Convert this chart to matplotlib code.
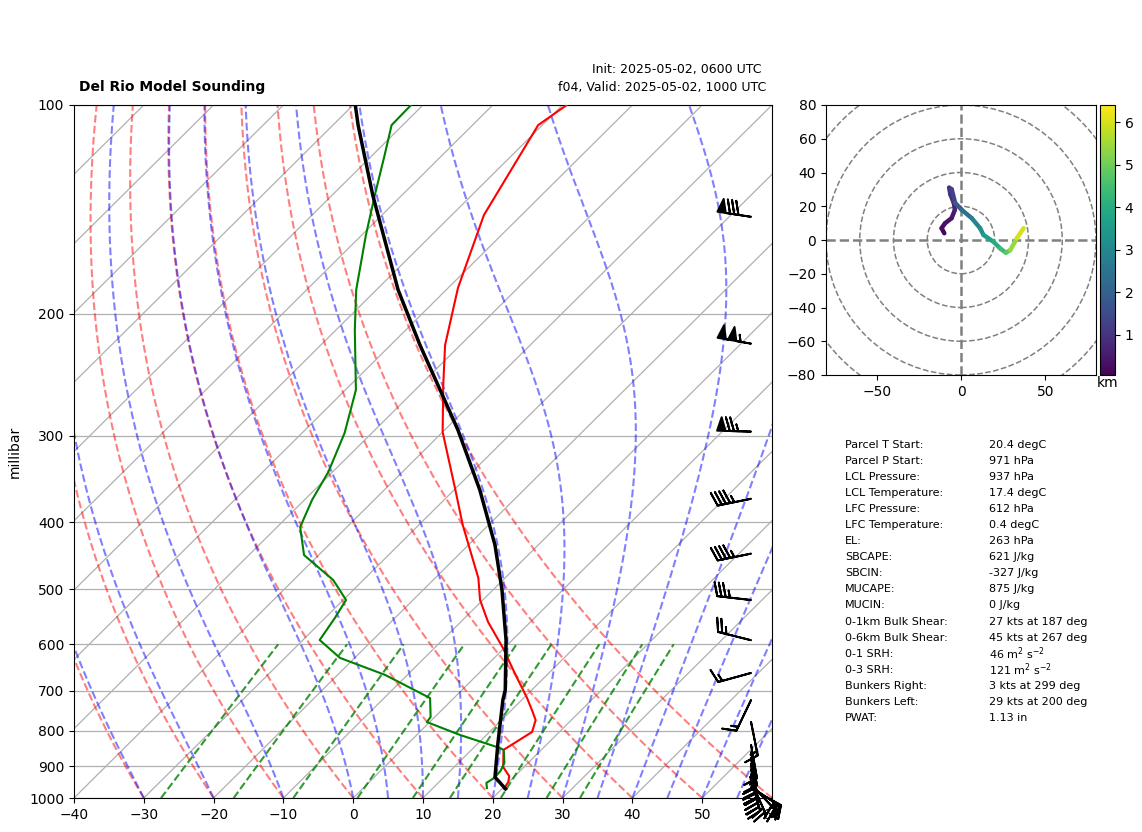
import numpy as np
import matplotlib
matplotlib.use('Agg')
import matplotlib.pyplot as plt
from matplotlib.collections import LineCollection
from matplotlib.colors import Normalize
from matplotlib.cm import ScalarMappable
from matplotlib.ticker import FixedLocator, NullLocator, ScalarFormatter

# temperature profile
t_p = [100, 106.9, 144.1, 183.6, 222, 253.5, 296.4, 359.4, 403.7, 446.1, 481.6, 517.9, 557, 607.4,
       664.3, 717.5, 751.4, 772, 803, 852, 902, 930, 948, 970]
t_c = [-69.4, -70.6, -65.4, -58.6, -52.2, -46.7, -40, -29.8, -23.7, -18.1, -13.8, -10.4, -6.1, -0.2,
       5.5, 10.5, 13.3, 14.9, 16.1, 14.6, 17, 19.2, 19.9, 20.3]

# dewpoint profile
td_p = [100, 106.9, 118, 134.9, 154.1, 184.8, 211.2, 257.7, 297.4, 338.6, 371.5, 406.4, 446.1, 484.8,
        517.9, 550, 591.6, 627.9, 664.3, 717.5, 764, 777, 811, 844, 852, 890, 914, 936, 951, 967]
td_c = [-91.7, -91.6, -88.3, -83.9, -79.4, -72.9, -67.3, -58.5, -53.9, -50.6, -48.9, -46.7, -42.1, -34.3,
        -29.6, -28.6, -27.6, -22.1, -13.2, -3.4, -0.6, -0.4, 6.2, 13.2, 14.6, 16.6, 17.2, 17.3, 16.9, 17.7]

# parcel path
parcel_p = [100, 106.9, 134.9, 184.8, 222, 262, 294.4, 359.4, 431.4, 501, 591.6, 698.5, 722, 833, 933, 970]
parcel_c = [-99.7, -96.4, -84.2, -66.9, -55.8, -45.4, -38.1, -26.3, -16.2, -8.7, -0.9, 6.2, 7.3, 12.8, 17.3, 20.5]

# wind barbs
barb_p = [145, 221, 296, 370, 444, 518, 592, 660, 722, 777, 838, 858, 876, 893, 908, 923, 936, 945, 955, 964, 970]
barb_u = [79, 103, 75, 44, 44, 34.7, 24, 14.5, 6.5, -3, -3, -3, -3, -3, -4, -4, -5, -8, -14, -18, -22]
barb_v = [-12, -18, -2, 9, 9, -4, -6, 4, 13.6, 15, 17, 17, 18, 18, 18, 18, 18, 18, 15, 12, 12]

# hodograph
hodo_u = [-9.9, -11.5, -9.5, -5.6, -3.6, -4.2, -6.3, -7, -5.5, -3.5, 0.4, 6.4, 11.3, 13.3, 19.2, 23.2, 26.6, 29.2, 33.1, 37.1]
hodo_v = [4, 7, 9.9, 12.9, 17.9, 21.8, 27, 31, 30, 22, 17.9, 12.9, 7, 3, -1, -5, -7.5, -6, 1, 7]
hodo_z = [0.06, 0.2, 0.3, 0.4, 0.5, 0.7, 0.85, 0.95, 1.05, 1.3, 1.8, 2.4, 2.9, 3.2, 3.6, 4.0, 4.4, 4.8, 5.4, 6.0]

stat_names = ['Parcel T Start:', 'Parcel P Start:', 'LCL Pressure:', 'LCL Temperature:', 'LFC Pressure:',
              'LFC Temperature:', 'EL:', 'SBCAPE:', 'SBCIN:', 'MUCAPE:', 'MUCIN:', '0-1km Bulk Shear:',
              '0-6km Bulk Shear:', '0-1 SRH:', '0-3 SRH:', 'Bunkers Right:', 'Bunkers Left:', 'PWAT:']
stat_values = ['20.4 degC', '971 hPa', '937 hPa', '17.4 degC', '612 hPa', '0.4 degC', '263 hPa', '621 J/kg',
               '-327 J/kg', '875 J/kg', '0 J/kg', '27 kts at 187 deg', '45 kts at 267 deg',
               r'46 m$^2$ s$^{-2}$', r'121 m$^2$ s$^{-2}$', '3 kts at 299 deg', '29 kts at 200 deg', '1.13 in']

W, H = 1142, 832
fig = plt.figure(figsize=(W / 100, H / 100), dpi=100)


def box(left, top, right, bottom):
    return [left / W, 1 - bottom / H, (right - left) / W, (bottom - top) / H]


ax = fig.add_axes(box(74, 105, 772, 798))
K = 100.0


# skew temperature into x position
def skew(t, p):
    return np.asarray(t, dtype=float) + K * np.log10(1000.0 / np.asarray(p, dtype=float))


# saturation vapor pressure, hPa
def es(t):
    return 6.112 * np.exp(17.67 * t / (t + 243.5))


def moist_line(t0, pres):
    out = [t0]
    t = t0 + 273.15
    for i in range(1, len(pres)):
        dp = pres[i] - pres[i - 1]
        rs = 0.622 * es(t - 273.15) / (pres[i - 1] - es(t - 273.15))
        lv = 2.501e6
        frac = (287.05 * t + lv * rs) / (1005.0 + lv * lv * rs * 0.622 / (287.05 * t * t))
        t = t + frac / pres[i - 1] * dp
        out.append(t - 273.15)
    return np.array(out)


pres = np.linspace(1000, 100, 901)
ax.set_yscale('log')

# isotherms and pressure lines
for t in np.arange(-150, 61, 10):
    ax.plot(skew([t, t], [1000, 100]), [1000, 100], color='#b0b0b0', lw=0.9, zorder=1)
ax.yaxis.grid(True, color='#b0b0b0', lw=0.9)
ax.set_axisbelow(True)

# dry adiabats
for t0 in np.arange(-40, 61, 10):
    t = (t0 + 273.15) * (pres / 1000.0) ** 0.2854 - 273.15
    ax.plot(skew(t, pres), pres, color='r', alpha=0.5, ls='--', lw=1.5, zorder=2)

# moist adiabats
moist_t0 = np.concatenate((np.arange(-40, 0, 10), np.arange(0, 101, 5)))
for t0 in moist_t0:
    ax.plot(skew(moist_line(float(t0), pres), pres), pres, color='b', alpha=0.5, ls='--', lw=1.5, zorder=2)

# mixing ratio lines
mix_p = np.linspace(1000, 600, 50)
for w in [0.0004, 0.001, 0.002, 0.004, 0.007, 0.01, 0.016, 0.024, 0.032]:
    e = mix_p * w / (0.622 + w)
    td = 243.5 * np.log(e / 6.112) / (17.67 - np.log(e / 6.112))
    ax.plot(skew(td, mix_p), mix_p, color='g', alpha=0.8, ls='--', lw=1.5, zorder=2)

ax.plot(skew(t_c, t_p), t_p, color='red', lw=1.5, zorder=4)
ax.plot(skew(td_c, td_p), td_p, color='green', lw=1.5, zorder=4)
ax.plot(skew(parcel_c, parcel_p), parcel_p, color='black', lw=2.5, zorder=5)

ax.barbs(np.full(len(barb_p), 0.97), barb_p, barb_u, barb_v, transform=ax.get_yaxis_transform(),
         clip_on=False, zorder=6, pivot='tip', length=7, linewidth=1.4)

ax.set_xlim(-40, 60)
ax.set_ylim(1000, 100)
ax.xaxis.set_major_locator(FixedLocator(np.arange(-40, 61, 10)))
ax.yaxis.set_major_locator(FixedLocator(np.arange(100, 1001, 100)))
ax.yaxis.set_major_formatter(ScalarFormatter())
ax.yaxis.set_minor_locator(NullLocator())
ax.set_ylabel('millibar')
ax.yaxis.set_label_coords(-0.0745, 0.5)

fig.text(79 / W, 1 - 87.5 / H, 'Del Rio Model Sounding', fontsize=10, fontweight='bold', va='center')
fig.text(762 / W, 1 - 70 / H, 'Init: 2025-05-02, 0600 UTC', fontsize=9, ha='right', va='center')
fig.text(766 / W, 1 - 87.5 / H, 'f04, Valid: 2025-05-02, 1000 UTC', fontsize=9, ha='right', va='center')

# hodograph
hax = fig.add_axes(box(826, 105, 1096, 375))
for r in np.arange(20, 121, 20):
    hax.add_patch(plt.Circle((0, 0), r, fill=False, color='gray', ls='--', lw=1.1))
hax.axhline(0, color='gray', ls='--', lw=1.8)
hax.axvline(0, color='gray', ls='--', lw=1.8)
pts = np.column_stack([hodo_u, hodo_v])
segs = np.stack([pts[:-1], pts[1:]], axis=1)
norm = Normalize(0.06, 6.4)
lc = LineCollection(segs, cmap='viridis', norm=norm, lw=3.2, capstyle='round', zorder=3)
lc.set_array(np.array(hodo_z[1:]))
hax.add_collection(lc)
hax.set_xlim(-80, 80)
hax.set_ylim(-80, 80)
hax.set_xticks([-50, 0, 50])
hax.set_yticks(np.arange(-80, 81, 20))

cax = fig.add_axes(box(1100, 105, 1115, 375))
cb = fig.colorbar(ScalarMappable(norm=norm, cmap='viridis'), cax=cax)
cb.set_ticks([1, 2, 3, 4, 5, 6])
cax.set_xlabel('km', labelpad=1)

# stats table
for i in range(len(stat_names)):
    y = 444.5 + i * 16.1
    fig.text(845 / W, 1 - y / H, stat_names[i], fontsize=8, va='center')
    fig.text(989 / W, 1 - y / H, stat_values[i], fontsize=8, va='center')

fig.savefig('out.png', dpi=100)
